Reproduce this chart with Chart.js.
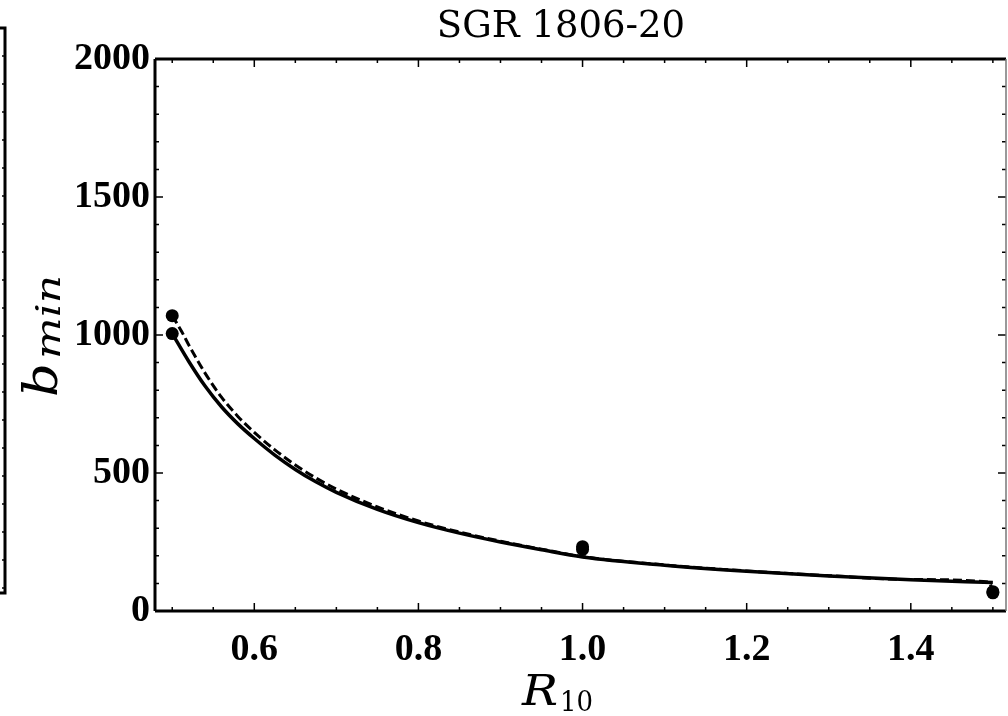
<!DOCTYPE html>
<html>
<head>
<meta charset="utf-8">
<script src="https://cdn.jsdelivr.net/npm/chart.js@4.4.1/dist/chart.umd.min.js"></script>
<style>
html,body{margin:0;padding:0;background:#fff;}
#wrap{width:1008px;height:716px;position:relative;}
</style>
</head>
<body>
<div id="wrap"><canvas id="c" width="1008" height="716"></canvas></div>
<script>
// ---- data ----
const titleText = "SGR 1806-20";
const xTickValues = [0.6, 0.8, 1.0, 1.2, 1.4];
const yTickValues = [0, 500, 1000, 1500, 2000];

const solidR = [0.50, 0.52, 0.54, 0.56, 0.58, 0.60, 0.625, 0.65, 0.675, 0.70, 0.75, 0.80, 0.85, 0.90, 0.95, 1.00, 1.10, 1.20, 1.30, 1.40, 1.50];
const solidB = [1005, 905, 815, 740, 678, 625, 565, 513, 468, 430, 368, 320, 282, 250, 222, 196, 166, 144, 127, 113, 103];

const dashedR = [0.50, 0.512, 0.52, 0.54, 0.56, 0.58, 0.60, 0.625, 0.65, 0.675, 0.70, 0.75, 0.80, 0.85, 0.90, 0.95, 1.00, 1.10, 1.20, 1.30, 1.40, 1.495, 1.50];
const dashedB = [1070, 1010, 965, 862, 775, 705, 647, 584, 529, 482, 442, 377, 326, 286, 253, 224, 197, 167, 145, 128, 114, 105, 70];

const pointR = [0.5, 0.5, 1.0, 1.0, 1.5, 1.5];
const pointB = [1070, 1005, 233, 223, 70, 66];

const xMin = 0.479, xMax = 1.516;
const yMin = 0, yMax = 2000;

const toXY = (xs, ys) => xs.map((x, i) => ({x: x, y: ys[i]}));

function fitText(ctx, text, font, targetW, x, y) {
  ctx.font = font;
  const w = ctx.measureText(text).width;
  const k = targetW / w;
  ctx.save();
  ctx.translate(x, y);
  ctx.scale(k, 1);
  ctx.fillText(text, 0, 0);
  ctx.restore();
}

// keep the plot frame at the reference position (right edge ~1006 px)
const areaPlugin = {
  id: 'area',
  afterLayout(chart) {
    const targetRight = chart.width - 2;
    const xs = chart.scales.x;
    if (Math.abs(chart.chartArea.right - targetRight) > 0.5) {
      chart.chartArea.right = targetRight;
      chart.chartArea.width = targetRight - chart.chartArea.left;
      xs.right = targetRight;
      xs.width = targetRight - xs.left;
      xs.configure();
    }
  }
};

const framePlugin = {
  id: 'frame',
  afterDraw(chart) {
    const ctx = chart.ctx;
    const a = chart.chartArea;
    const xs = chart.scales.x, ys = chart.scales.y;
    ctx.save();
    ctx.strokeStyle = '#000';
    ctx.lineWidth = 1.5;
    for (let v = 0.5; v <= 1.5001; v += 0.05) {
      const px = xs.getPixelForValue(v);
      const major = xTickValues.some(t => Math.abs(t - v) < 1e-6);
      const len = major ? 8 : 4;
      ctx.beginPath();
      ctx.moveTo(px, a.bottom); ctx.lineTo(px, a.bottom - len);
      ctx.moveTo(px, a.top); ctx.lineTo(px, a.top + len);
      ctx.stroke();
    }
    for (let v = 0; v <= 2000; v += 100) {
      const py = ys.getPixelForValue(v);
      const major = v % 500 === 0;
      const len = major ? 8 : 4;
      ctx.beginPath();
      ctx.moveTo(a.left, py); ctx.lineTo(a.left + len, py);
      ctx.moveTo(a.right, py); ctx.lineTo(a.right - len, py);
      ctx.stroke();
    }
    ctx.lineWidth = 3;
    ctx.beginPath();
    ctx.moveTo(a.left, a.top); ctx.lineTo(a.right, a.top);
    ctx.moveTo(a.left, a.bottom); ctx.lineTo(a.right, a.bottom);
    ctx.moveTo(a.left, a.top); ctx.lineTo(a.left, a.bottom);
    ctx.stroke();
    ctx.lineWidth = 1.5;
    ctx.strokeStyle = '#777';
    ctx.beginPath();
    ctx.moveTo(a.right, a.top); ctx.lineTo(a.right, a.bottom);
    ctx.stroke();

    // neighbouring panel edge at far left
    ctx.strokeStyle = '#000';
    ctx.lineWidth = 3;
    ctx.beginPath();
    ctx.moveTo(0, 28); ctx.lineTo(5, 28); ctx.lineTo(5, 593); ctx.lineTo(0, 593);
    ctx.stroke();
    ctx.lineWidth = 1.5;
    for (let y = 28 + 28; y < 593; y += 28) {
      ctx.beginPath(); ctx.moveTo(5, y); ctx.lineTo(2, y); ctx.stroke();
    }

    // title
    ctx.fillStyle = '#000';
    ctx.textAlign = 'center';
    ctx.textBaseline = 'alphabetic';
    ctx.font = '37px "DejaVu Serif"';
    ctx.fillText(titleText, 561, 37);

    // x axis label R_10
    ctx.textAlign = 'left';
    fitText(ctx, 'R', 'italic 42px "DejaVu Serif"', 36, 522, 705);
    fitText(ctx, '10', '28px "DejaVu Serif"', 33, 560, 711);

    // y axis label b_min (rotated, reading upward)
    ctx.save();
    ctx.translate(57, 397);
    ctx.rotate(-Math.PI / 2);
    fitText(ctx, 'b', 'italic 46px "DejaVu Serif"', 34, 0, 0);
    fitText(ctx, 'min', 'italic 34px "DejaVu Serif"', 84, 38, 3);
    ctx.restore();
    ctx.restore();
  }
};

new Chart(document.getElementById('c'), {
  type: 'scatter',
  data: {
    datasets: [
      {
        data: toXY(solidR, solidB),
        showLine: true,
        borderColor: '#000',
        borderWidth: 3.5,
        pointRadius: 0,
        cubicInterpolationMode: 'monotone',
        fill: false
      },
      {
        data: toXY(dashedR, dashedB),
        showLine: true,
        borderColor: '#000',
        borderWidth: 3,
        borderDash: [9, 4],
        pointRadius: 0,
        cubicInterpolationMode: 'monotone',
        fill: false
      },
      {
        data: toXY(pointR, pointB),
        showLine: false,
        pointRadius: 6.5,
        pointBackgroundColor: '#000',
        pointBorderColor: '#000',
        pointBorderWidth: 0
      }
    ]
  },
  options: {
    responsive: false,
    animation: false,
    clip: false,
    layout: { padding: { top: 59, right: 2, left: 0, bottom: 0 } },
    plugins: { legend: { display: false }, tooltip: { enabled: false }, title: { display: false } },
    scales: {
      x: {
        type: 'linear',
        min: xMin, max: xMax,
        grid: { display: false, drawTicks: false },
        border: { display: false },
        afterBuildTicks: s => { s.ticks = xTickValues.map(v => ({ value: v })); },
        afterFit: s => { s.height = 105; s.paddingRight = 0; s.paddingLeft = 0; },
        ticks: {
          padding: 16,
          color: '#000',
          font: { family: '"Liberation Serif"', size: 38, weight: 'bold' },
          callback: v => Number(v).toFixed(1),
          maxRotation: 0
        }
      },
      y: {
        type: 'linear',
        min: yMin, max: yMax,
        grid: { display: false, drawTicks: false },
        border: { display: false },
        afterBuildTicks: s => { s.ticks = yTickValues.map(v => ({ value: v })); },
        afterFit: s => { s.width = 155; s.paddingTop = 0; s.paddingBottom = 0; },
        ticks: {
          padding: 5,
          color: '#000',
          font: { family: '"Liberation Serif"', size: 38, weight: 'bold' },
          callback: v => String(v)
        }
      }
    }
  },
  plugins: [areaPlugin, framePlugin]
});
</script>
</body>
</html>
